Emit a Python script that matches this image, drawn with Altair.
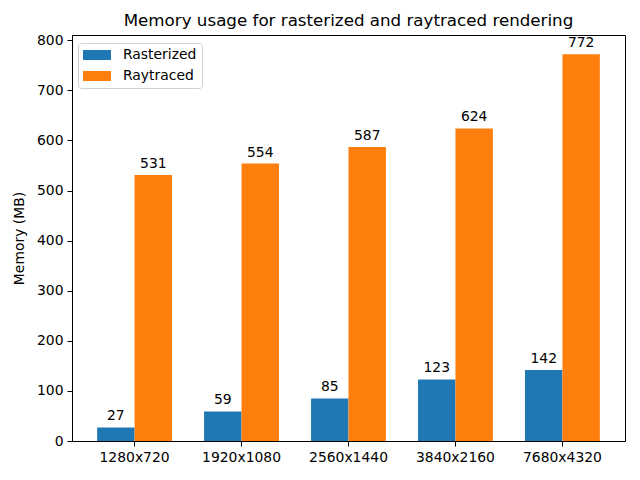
import altair as alt
import pandas as pd

resolutions = ["1280x720", "1920x1080", "2560x1440", "3840x2160", "7680x4320"]
rasterized = [27, 59, 85, 123, 142]
raytraced = [531, 554, 587, 624, 772]
series = ["Rasterized", "Raytraced"]
colors = ["#1f77b4", "#ff7f0e"]

rows = []
for i, r in enumerate(resolutions):
    rows.append({"res": r, "series": series[0], "mem": rasterized[i]})
    rows.append({"res": r, "series": series[1], "mem": raytraced[i]})
df = pd.DataFrame(rows)

FONT = "DejaVu Sans"

x = alt.X("res:N", sort=resolutions, title=None,
          scale=alt.Scale(paddingInner=0.3, paddingOuter=0.235),
          axis=alt.Axis(labelAngle=0, labelFontSize=13.9, labelColor="black",
                        tickColor="black", domainColor="black", tickSize=5,
                        labelPadding=4, grid=False))
xo = alt.XOffset("series:N", sort=series,
                 scale=alt.Scale(paddingInner=0, paddingOuter=0))
y = alt.Y("mem:Q", title="Memory (MB)",
          scale=alt.Scale(domain=[0, 810.6], nice=False, zero=True),
          axis=alt.Axis(values=list(range(0, 801, 100)), labelFontSize=13.9,
                        labelColor="black", tickColor="black", domainColor="black",
                        tickSize=5, labelPadding=4, grid=False,
                        titleFontSize=13.9, titleFontWeight="normal",
                        titleColor="black", titlePadding=10))

color = alt.Color("series:N", sort=series,
                  scale=alt.Scale(domain=series, range=colors),
                  legend=alt.Legend(title=None, orient="none", legendX=6, legendY=8,
                                    symbolType="M-1,-0.714L3,-0.714L3,0.714L-1,0.714Z",
                                    symbolSize=196, symbolStrokeWidth=0,
                                    symbolOpacity=1,
                                    labelFontSize=13.9, labelColor="black",
                                    labelOffset=26, rowPadding=7, padding=5,
                                    fillColor="white", strokeColor="#d0d0d0",
                                    cornerRadius=3))

bars = alt.Chart(df).mark_bar(opacity=1).encode(x=x, xOffset=xo, y=y, color=color)
labels = alt.Chart(df).mark_text(baseline="alphabetic", dy=-7, fontSize=13.9,
                                 color="black", font=FONT).encode(
    x=x, xOffset=xo, y=y, text=alt.Text("mem:Q"))

chart = alt.layer(bars, labels).properties(
    width=553, height=406,
    title=alt.TitleParams("Memory usage for rasterized and raytraced rendering",
                          fontSize=16.7, fontWeight="normal", color="black",
                          font=FONT, anchor="middle", offset=4),
    autosize=alt.AutoSizeParams(type="none"),
    padding={"left": 72, "top": 35, "right": 15, "bottom": 39},
).configure(font=FONT).configure_view(stroke="black", strokeWidth=1)

chart.save("out.html", embed_options={"renderer": "svg", "actions": False})
